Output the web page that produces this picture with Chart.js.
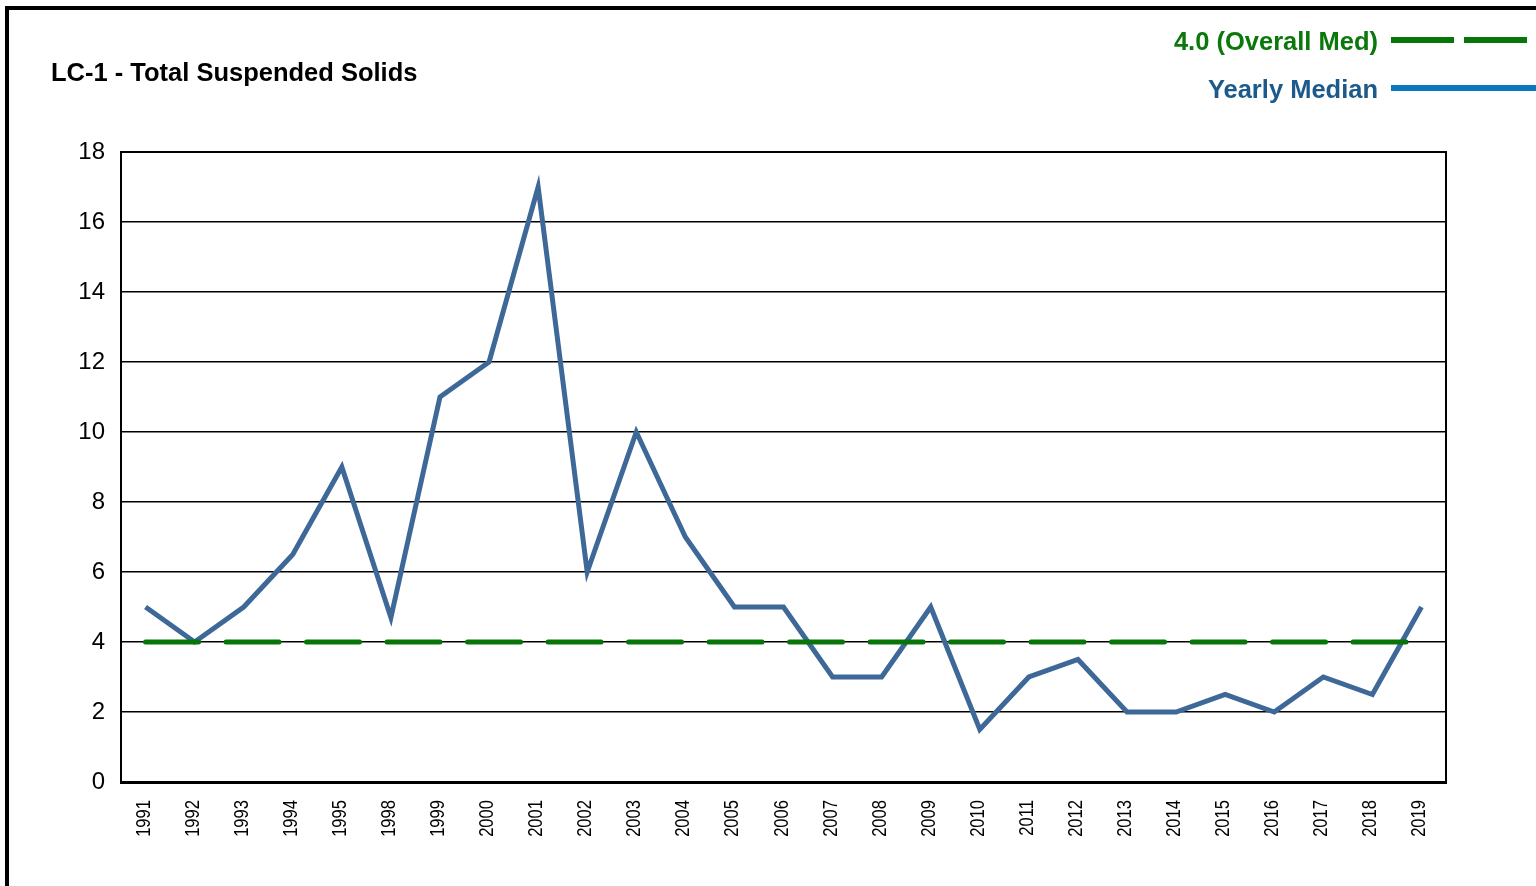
<!DOCTYPE html>
<html>
<head>
<meta charset="utf-8">
<script src="https://cdn.jsdelivr.net/npm/chart.js@4/dist/chart.umd.min.js"></script>
<style>
  body { margin: 0; background: #fff; width: 1536px; height: 886px; overflow: hidden; position: relative; font-family: "Liberation Sans", Arial, sans-serif; }
  #frame { position: absolute; left: 5px; top: 6px; right: 0; bottom: 0; border-left: 4px solid #000; border-top: 4px solid #000; }
  #chart { position: absolute; left: 0; top: 0; }
  .title { position: absolute; left: 51px; top: 58px; font-size: 25.5px; font-weight: bold; color: #000; white-space: nowrap; }
  .legend-label { position: absolute; right: 158px; font-size: 25.5px; font-weight: bold; white-space: nowrap; }
  .legend-line { position: absolute; left: 1391px; width: 145px; height: 6px; }
</style>
</head>
<body>
<div id="frame"></div>
<canvas id="chart" width="1536" height="886"></canvas>
<div class="title">LC-1 - Total Suspended Solids</div>
<div class="legend-label" style="top:27px;color:#0b780b">4.0 (Overall Med)</div>
<div class="legend-line" style="top:37px;background:repeating-linear-gradient(to right,#087508 0 63px,transparent 63px 73px)"></div>
<div class="legend-label" style="top:75px;color:#1b5a8a">Yearly Median</div>
<div class="legend-line" style="top:85px;background:#0a78c0"></div>

<script>
// years shown on the x axis (1996/1997 are missing in the source)
const years = ['1991', '1992', '1993', '1994', '1995', '1998', '1999', '2000', '2001', '2002',
  '2003', '2004', '2005', '2006', '2007', '2008', '2009', '2010', '2011', '2012',
  '2013', '2014', '2015', '2016', '2017', '2018', '2019'];

// yearly median TSS
const yearlyMedian = [5, 4, 5, 6.5, 9, 4.7, 11, 12, 17, 6,
  10, 7, 5, 5, 3, 3, 5, 1.5, 3, 3.5,
  2, 2, 2.5, 2, 3, 2.5, 5];

// overall median, same for every year
const overallMedian = [4, 4, 4, 4, 4, 4, 4, 4, 4, 4,
  4, 4, 4, 4, 4, 4, 4, 4, 4, 4,
  4, 4, 4, 4, 4, 4, 4];

const yTicks = [0, 2, 4, 6, 8, 10, 12, 14, 16, 18];

// box round the plot area
const plotBox = {
  id: 'plotBox',
  afterDraw(chart) {
    const { ctx, chartArea: a } = chart;
    ctx.save();
    ctx.strokeStyle = '#000';
    ctx.lineWidth = 2;
    ctx.strokeRect(a.left, a.top, a.right - a.left, a.bottom - a.top);
    ctx.restore();
  }
};

// year labels: rotated and squeezed a bit, like the original narrow font
const yearLabels = {
  id: 'yearLabels',
  afterDraw(chart) {
    const { ctx, chartArea: a } = chart;
    const xs = chart.scales.x;
    ctx.save();
    ctx.fillStyle = '#000';
    ctx.font = '19.5px "Liberation Sans", Arial, sans-serif';
    ctx.textAlign = 'right';
    ctx.textBaseline = 'alphabetic';
    xs.ticks.forEach((t, i) => {
      const x = xs.getPixelForTick(i);
      ctx.save();
      ctx.translate(x + 4, a.bottom + 18);
      ctx.rotate(-Math.PI / 2);
      ctx.scale(0.85, 1);
      ctx.fillText(xs.getLabelForValue(t.value), 0, 0);
      ctx.restore();
    });
    ctx.restore();
  }
};

const ctx = document.getElementById('chart').getContext('2d');
new Chart(ctx, {
  type: 'line',
  data: {
    labels: years,
    datasets: [
      {
        label: '4.0 (Overall Med)',
        data: overallMedian,
        borderColor: '#087508',
        borderWidth: 5,
        borderDash: [53, 27.5],
        borderCapStyle: 'round',
        pointRadius: 0,
        order: 0
      },
      {
        label: 'Yearly Median',
        data: yearlyMedian,
        borderColor: '#3d6898',
        borderWidth: 5,
        borderJoinStyle: 'miter',
        pointRadius: 0,
        tension: 0,
        order: 1
      }
    ]
  },
  options: {
    responsive: false,
    animation: false,
    layout: { padding: { top: 152, right: 90, left: 0, bottom: 0 } },
    plugins: {
      legend: { display: false },
      tooltip: { enabled: false }
    },
    scales: {
      x: {
        offset: true,
        grid: { display: false, drawTicks: false },
        border: { color: '#000', width: 3 },
        ticks: {
          autoSkip: false,
          maxRotation: 90,
          minRotation: 90,
          color: 'rgba(0,0,0,0)'
        },
        afterFit(scale) { scale.height = 104; }
      },
      y: {
        min: 0,
        max: 18,
        afterBuildTicks(scale) { scale.ticks = yTicks.map(v => ({ value: v })); },
        grid: { color: '#000', lineWidth: 1.5, drawTicks: false },
        border: { color: '#000', width: 2 },
        ticks: {
          padding: 16,
          color: '#000',
          font: { family: '"Liberation Sans", Arial, sans-serif', size: 24 }
        },
        afterFit(scale) { scale.width = 121; }
      }
    }
  },
  plugins: [plotBox, yearLabels]
});
</script>
</body>
</html>
